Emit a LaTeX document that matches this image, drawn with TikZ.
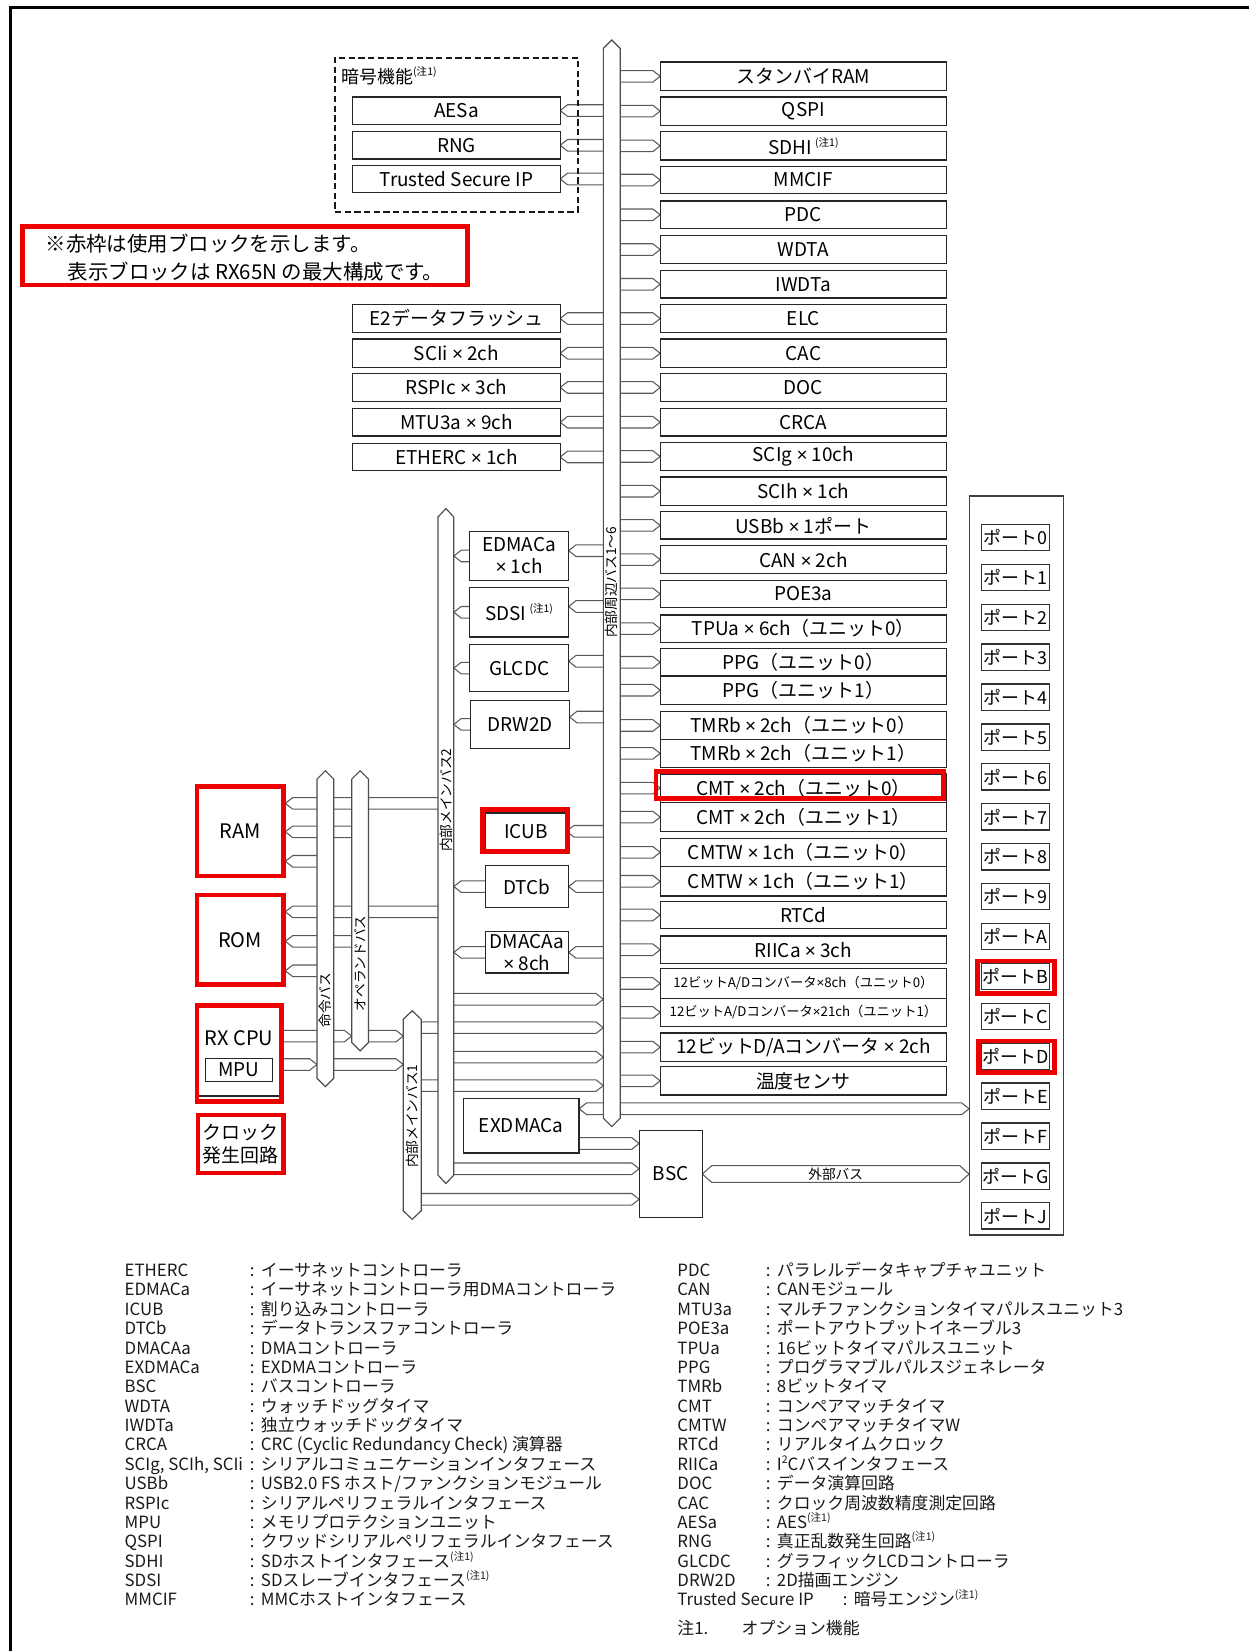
\documentclass[tikz,border=0pt]{standalone}
\usepackage{fontspec}
\setmainfont{Noto Sans CJK JP}
\newfontfamily\mylatf{Liberation Sans}
\usetikzlibrary{calc}
\definecolor{hl}{RGB}{236,0,0}
\newcommand{\myx}{{\mylatf ×}}
\newcommand{\mycn}{\raisebox{0.42em}{\fontsize{5}{5}\selectfont(注1)}}
\newcommand{\mybx}[7][]{%
  \node[blk,minimum width={(#5-#3)*0.5pt},minimum height={(#6-#4)*0.5pt},#1] (#2) at ({(#3+#5)/2},{(#4+#6)/2}) {#7};}
\newcommand{\myRA}[2]{\filldraw[conn] ($(#1)+(0,-5.5)$) -- ($(#2)+(-7,-5.5)$) -- (#2) -- ($(#2)+(-7,5.5)$) -- ($(#1)+(0,5.5)$);}
\newcommand{\myLA}[2]{\filldraw[conn] ($(#1)+(0,-5.5)$) -- ($(#2)+(7,-5.5)$) -- (#2) -- ($(#2)+(7,5.5)$) -- ($(#1)+(0,5.5)$);}
\newcommand{\mybus}[4]{\filldraw[busst] (#1,#3+8) -- ({(#1+#2)/2},#3) -- (#2,#3+8) -- (#2,#4-8) -- ({(#1+#2)/2},#4) -- (#1,#4-8) -- cycle;}
\newcommand{\mylgL}[3]{\node[lg] (lgla#1) at (118,{1212.4+18.4*#1}) {#2}; \node[lg] (lglb#1) at (237,{1212.4+18.4*#1}) {:\hspace{3pt}#3};}
\newcommand{\mylgR}[3]{\node[lg] (lgra#1) at (643,{1212.4+18.4*#1}) {#2}; \node[lg] (lgrb#1) at (727,{1212.4+18.4*#1}) {:\hspace{3pt}#3};}
\pgfdeclarelayer{conns}\pgfdeclarelayer{buses}
\pgfsetlayers{conns,buses,main}
\begin{document}
\begin{tikzpicture}[x=0.5pt,y=-0.5pt,
  blk/.style={draw=black!85,line width=0.6pt,fill=white,inner sep=0pt,outer sep=0pt,font=\fontsize{9}{10.5}\selectfont,align=center,text=black},
  conn/.style={draw=black!65,line width=0.5pt,fill=white},
  busst/.style={draw=black!70,line width=0.55pt,fill=white},
  hlbox/.style={draw=hl,line width=2.25pt},
  buslbl/.style={font=\fontsize{6.5}{7}\selectfont,rotate=90,inner sep=0pt},
  lg/.style={font=\fontsize{8}{9}\selectfont,anchor=base west,inner sep=0pt,text=black!90},
  portbx/.style={draw=black!80,line width=0.6pt,fill=white,inner sep=0pt,minimum width=32.5pt,minimum height=12.5pt,font=\fontsize{8.5}{9}\selectfont}
]
\useasboundingbox (0,0) rectangle (1186,1568);
% frame
\draw[line width=1.6pt] (10,1568) -- (10,7) -- (1186,7);

% note box
\node[hlbox,minimum width=211.25pt,minimum height=27.75pt,inner sep=0pt] (noteR) at (232.5,243) {};
\node[anchor=west,inner sep=0pt,font=\fontsize{9.7}{11}\selectfont] (note1) at (43,231) {※赤枠は使用ブロックを示します。};
\node[anchor=west,inner sep=0pt,font=\fontsize{9.7}{11}\selectfont] (note2) at (64,258) {表示ブロックは RX65N の最大構成です。};

% bus edge coordinates
\coordinate (mbL) at (573,0); \coordinate (mbR) at (589,0);
\coordinate (b2L) at (416,0); \coordinate (b2R) at (431,0);
\coordinate (b1L) at (383,0); \coordinate (b1R) at (400,0);
\coordinate (ibL) at (301,0); \coordinate (ibR) at (317,0);
\coordinate (obL) at (334,0); \coordinate (obR) at (350,0);

% right column
\mybx{r1}{627}{59}{899}{86}{スタンバイRAM}
\mybx{r2}{627}{92}{899}{119}{QSPI}
\mybx{r3}{627}{125}{899}{152}{SDHI\,\mycn}
\mybx{r4}{627}{158}{899}{184}{MMCIF}
\mybx{r5}{627}{191}{899}{217}{PDC}
\mybx{r6}{627}{224}{899}{250}{WDTA}
\mybx{r7}{627}{257}{899}{283}{IWDTa}
\mybx{r8}{627}{289}{899}{316}{ELC}
\mybx{r9}{627}{322}{899}{349}{CAC}
\mybx{r10}{627}{355}{899}{381}{DOC}
\mybx{r11}{627}{388}{899}{414}{CRCA}
\mybx{r12}{627}{420}{899}{447}{SCIg \myx\ 10ch}
\mybx{r13}{627}{453}{899}{480}{SCIh \myx\ 1ch}
\mybx{r14}{627}{486}{899}{512}{USBb \myx\ 1ポート}
\mybx{r15}{627}{518}{899}{545}{CAN \myx\ 2ch}
\mybx{r16}{627}{551}{899}{577}{POE3a}
\mybx{r17}{627}{584}{899}{610}{TPUa \myx\ 6ch（ユニット0）}
\mybx{r18}{627}{616}{899}{642}{PPG（ユニット0）}
\mybx{r19}{627}{642}{899}{669}{PPG（ユニット1）}
\mybx{r20}{627}{676}{899}{702}{TMRb \myx\ 2ch（ユニット0）}
\mybx{r21}{627}{702}{899}{729}{TMRb \myx\ 2ch（ユニット1）}
\mybx{r22}{627}{735}{899}{762}{CMT \myx\ 2ch（ユニット0）}
\mybx{r23}{627}{762}{899}{790}{CMT \myx\ 2ch（ユニット1）}
\mybx{r24}{627}{796}{899}{823}{CMTW \myx\ 1ch（ユニット0）}
\mybx{r25}{627}{823}{899}{851}{CMTW \myx\ 1ch（ユニット1）}
\mybx{r26}{627}{856}{899}{882}{RTCd}
\mybx{r27}{627}{889}{899}{915}{RIICa \myx\ 3ch}
\mybx[font={\fontsize{6.3}{7}\selectfont}]{r28}{627}{920}{899}{948}{12ビットA/Dコンバータ\myx 8ch（ユニット0）}
\mybx[font={\fontsize{6.3}{7}\selectfont}]{r29}{627}{948}{899}{975}{12ビットA/Dコンバータ\myx 21ch（ユニット1）}
\mybx{r30}{627}{981}{899}{1008}{12ビットD/Aコンバータ \myx\ 2ch}
\mybx{r31}{627}{1013}{899}{1040}{温度センサ}

% left column
\mybx{l1}{335}{92}{532}{118}{AESa}
\mybx{l2}{335}{125}{532}{151}{RNG}
\mybx{l3}{335}{157}{532}{183}{Trusted Secure IP}
\mybx{l4}{335}{289}{532}{316}{E2データフラッシュ}
\mybx{l5}{335}{322}{532}{349}{SCIi \myx\ 2ch}
\mybx{l6}{335}{355}{532}{381}{RSPIc \myx\ 3ch}
\mybx{l7}{335}{388}{532}{414}{MTU3a \myx\ 9ch}
\mybx{l8}{335}{421}{532}{447}{ETHERC \myx\ 1ch}

% inner blocks
\mybx{edm}{446}{505}{540}{551}{EDMACa\\\myx\ 1ch}
\mybx{sdsi}{446}{558}{540}{605}{SDSI\,\mycn}
\mybx{glc}{446}{612}{540}{657}{GLCDC}
\mybx{drw}{447}{665}{541}{711}{DRW2D}
\mybx{icu}{461}{772}{538}{807}{ICUB}
\mybx{dtc}{461}{822}{540}{862}{DTCb}
\mybx{dma}{461}{885}{540}{924}{DMACAa\\\myx\ 8ch}
\mybx{exd}{440}{1043}{550}{1095}{EXDMACa}
\mybx{bsc}{607}{1074}{667}{1156}{BSC}

% CPU side
\mybx[font={\fontsize{9.5}{10}\selectfont}]{ram}{187}{747}{269}{832}{RAM}
\mybx[font={\fontsize{9.5}{10}\selectfont}]{rom}{187}{850}{269}{935}{ROM}
\mybx{cpu}{187}{955}{267}{1041}{}
\node[font=\fontsize{9.5}{10}\selectfont,inner sep=0pt] (cputxt) at (227,986) {RX CPU};
\mybx{mpu}{195}{1005}{259}{1027}{MPU}
\mybx[font={\fontsize{9}{11}\selectfont}]{clk}{188}{1059}{269}{1114}{クロック\\発生回路}

% ports
\node[draw=black!75,line width=0.6pt,minimum width=44.5pt,minimum height=351pt,inner sep=0pt] (portbox) at (965.5,822) {};
\foreach \p [count=\i from 0] in {0,1,2,3,4,5,6,7,8,9,A,B,C,D,E,F,G,J}
  {\node[portbx] (p\p) at (964.5,{510.5+37.9*\i}) {ポート\p};}

% helper coordinates
\path (edm.east) ++(0,-5) coordinate (edmR);
\path (sdsi.east) ++(0,-5.5) coordinate (sdsiR);
\path (glc.east) ++(0,-6.5) coordinate (glcR);
\path (drw.east) ++(0,-7) coordinate (drwR);
\path (ram.east) ++(2,-26.5) coordinate (ram1) ++(0,27) coordinate (ram2) ++(0,28) coordinate (ram3);
\path (rom.east) ++(2,-26.5) coordinate (rom1) ++(0,28) coordinate (rom2) ++(0,28) coordinate (rom3);
\path (cpu.east) ++(2,-14) coordinate (cpuA) ++(0,27) coordinate (cpuB);
\coordinate (j1) at (0,949); \coordinate (j2) at (0,976);
\coordinate (j3) at (0,1004); \coordinate (j4) at (0,1031);
\path (bsc.west) ++(0,-5) coordinate (bscA) ++(0,29) coordinate (bscB);
\path (exd.east) ++(0,17) coordinate (exB);
\path (exd.east) ++(0,-16) coordinate (exA);
\coordinate (exT) at (exA -| portbox.west);
\coordinate (ebT) at (bsc.east -| portbox.west);

\begin{pgfonlayer}{conns}
\foreach \k in {1,...,31} {\myRA{r\k.west -| mbR}{r\k.west}}
\foreach \k in {1,...,8} {\myLA{l\k.east -| mbL}{l\k.east}}
\myLA{edmR -| mbL}{edmR}
\myLA{sdsiR -| mbL}{sdsiR}
\myLA{glcR -| mbL}{glcR}
\myLA{drwR -| mbL}{drwR}
\myLA{icu.east -| mbL}{icu.east}
\myLA{dtc.east -| mbL}{dtc.east}
\myLA{dma.east -| mbL}{dma.east}
\myLA{edm.west}{edm.west -| b2R}
\myLA{sdsi.west}{sdsi.west -| b2R}
\myLA{glc.west}{glc.west -| b2R}
\myLA{drw.west}{drw.west -| b2R}
\myLA{dtc.west}{dtc.west -| b2R}
\myLA{dma.west}{dma.west -| b2R}
% RAM / ROM
\myLA{ram1 -| b2L}{ram1}
\myLA{ram2 -| obL}{ram2}
\myLA{ram3 -| ibL}{ram3}
\myLA{rom1 -| b2L}{rom1}
\myLA{rom2 -| obL}{rom2}
\myLA{rom3 -| ibL}{rom3}
% CPU
\myRA{cpuA}{cpuA -| obL}
\myRA{cpuB}{cpuB -| ibL}
\myRA{cpuA -| obR}{cpuA -| b1L}
\myRA{cpuB -| ibR}{cpuB -| b1L}
% buses to peripheral bus
\myRA{j1 -| b2R}{j1 -| mbL}
\myRA{j2 -| b1R}{j2 -| mbL}
\myRA{j3 -| b2R}{j3 -| mbL}
\myRA{j4 -| b1R}{j4 -| mbL}
% BSC
\myRA{bscA -| b2R}{bscA}
\myRA{bscB -| b1R}{bscB}
\myRA{exB}{exB -| bsc.west}
% EXDMACa <-> ports
\filldraw[conn] (exA) -- ++(7,-5.5) -- ($(exT)+(-7,-5.5)$) -- (exT) -- ($(exT)+(-7,5.5)$) -- ($(exA)+(7,5.5)$) -- cycle;
% external bus
\filldraw[conn] (bsc.east) -- ++(9,-8) -- ($(ebT)+(-9,-8)$) -- (ebT) -- ($(ebT)+(-9,8)$) -- ($(bsc.east)+(9,8)$) -- cycle;
\end{pgfonlayer}

\begin{pgfonlayer}{buses}
\mybus{573}{589}{38}{1070}
\mybus{416}{431}{483}{1124}
\mybus{383}{400}{960}{1158}
\mybus{301}{317}{732}{1032}
\mybus{334}{350}{732}{998}
\end{pgfonlayer}

\node[font=\fontsize{6.5}{7}\selectfont,inner sep=0pt] (extlbl) at ($(bsc.east)!0.5!(ebT)$) {外部バス};
\node[buslbl] (lblmb) at (581,553) {内部周辺バス1〜6};
\node[buslbl] (lblb2) at (423.5,760) {内部メインバス2};
\node[buslbl] (lblib) at (309,950) {命令バス};
\node[buslbl] (lblob) at (342,915) {オペランドバス};
\node[buslbl] (lblb1) at (391.5,1060) {内部メインバス1};

% crypto dashed group
\node[draw=black!90,line width=1pt,dash pattern=on 3pt off 1.6pt,minimum width=115.5pt,minimum height=73pt,inner sep=0pt] (crypt) at (433.5,128) {};
\node[anchor=west,inner sep=0pt,font=\fontsize{8.5}{9}\selectfont] (cryptlbl) at (324,72) {暗号機能\mycn};

% red highlights
\draw[hlbox] (ram.north west) rectangle (ram.south east);
\draw[hlbox] (rom.north west) rectangle (rom.south east);
\draw[hlbox] (cpu.north west) rectangle ($(cpu.south east)+(0,5)$);
\draw[hlbox] (clk.north west) rectangle (clk.south east);
\draw[hlbox] ($(icu.north west)+(-3,-3)$) rectangle ($(icu.south east)+(1,2)$);
\draw[hlbox] ($(r22.north west)+(-4,-2)$) rectangle ($(r22.south east)+(-3,-4)$);
\draw[hlbox] ($(pB.north west)+(-3,-1.5)$) rectangle ($(pB.south east)+(4,3)$);
\draw[hlbox] ($(pD.north west)+(-2,-1.5)$) rectangle ($(pD.south east)+(4,2)$);

% legend
\mylgL{0}{ETHERC}{イーサネットコントローラ}
\mylgL{1}{EDMACa}{イーサネットコントローラ用DMAコントローラ}
\mylgL{2}{ICUB}{割り込みコントローラ}
\mylgL{3}{DTCb}{データトランスファコントローラ}
\mylgL{4}{DMACAa}{DMAコントローラ}
\mylgL{5}{EXDMACa}{EXDMAコントローラ}
\mylgL{6}{BSC}{バスコントローラ}
\mylgL{7}{WDTA}{ウォッチドッグタイマ}
\mylgL{8}{IWDTa}{独立ウォッチドッグタイマ}
\mylgL{9}{CRCA}{CRC (Cyclic Redundancy Check) 演算器}
\mylgL{10}{SCIg, SCIh, SCIi}{シリアルコミュニケーションインタフェース}
\mylgL{11}{USBb}{USB2.0 FS ホスト/ファンクションモジュール}
\mylgL{12}{RSPIc}{シリアルペリフェラルインタフェース}
\mylgL{13}{MPU}{メモリプロテクションユニット}
\mylgL{14}{QSPI}{クワッドシリアルペリフェラルインタフェース}
\mylgL{15}{SDHI}{SDホストインタフェース\mycn}
\mylgL{16}{SDSI}{SDスレーブインタフェース\mycn}
\mylgL{17}{MMCIF}{MMCホストインタフェース}

\mylgR{0}{PDC}{パラレルデータキャプチャユニット}
\mylgR{1}{CAN}{CANモジュール}
\mylgR{2}{MTU3a}{マルチファンクションタイマパルスユニット3}
\mylgR{3}{POE3a}{ポートアウトプットイネーブル3}
\mylgR{4}{TPUa}{16ビットタイマパルスユニット}
\mylgR{5}{PPG}{プログラマブルパルスジェネレータ}
\mylgR{6}{TMRb}{8ビットタイマ}
\mylgR{7}{CMT}{コンペアマッチタイマ}
\mylgR{8}{CMTW}{コンペアマッチタイマW}
\mylgR{9}{RTCd}{リアルタイムクロック}
\mylgR{10}{RIICa}{I\raisebox{0.42em}{\fontsize{5}{5}\selectfont 2}Cバスインタフェース}
\mylgR{11}{DOC}{データ演算回路}
\mylgR{12}{CAC}{クロック周波数精度測定回路}
\mylgR{13}{AESa}{AES\mycn}
\mylgR{14}{RNG}{真正乱数発生回路\mycn}
\mylgR{15}{GLCDC}{グラフィックLCDコントローラ}
\mylgR{16}{DRW2D}{2D描画エンジン}
\node[lg] (lgra17) at (643,{1212.4+18.4*17}) {Trusted Secure IP};
\node[lg] (lgrb17) at (800,{1212.4+18.4*17}) {:\hspace{3pt}暗号エンジン\mycn};
\node[lg] (fn1) at (643,1552) {注1.};
\node[lg] (fn1b) at (704,1552) {オプション機能};
\end{tikzpicture}
\end{document}
